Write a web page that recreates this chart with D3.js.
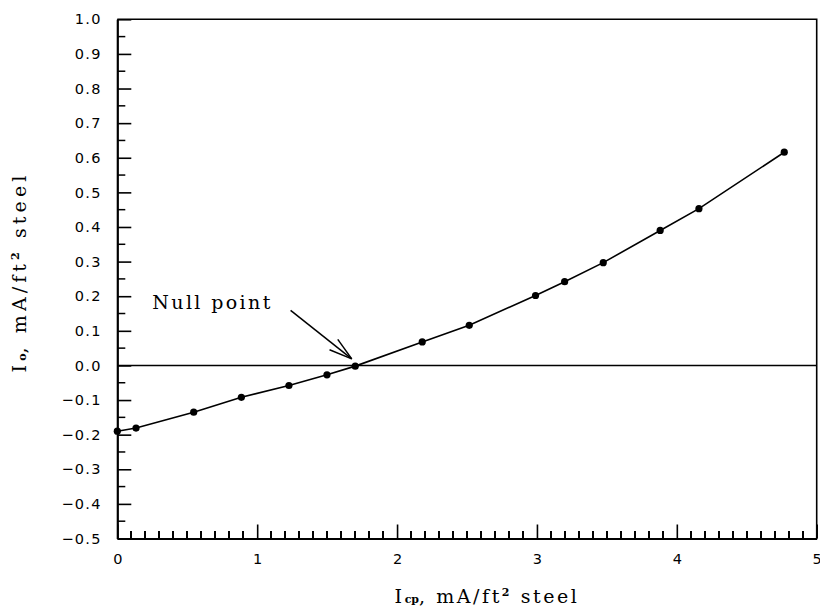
<!DOCTYPE html>
<html>
<head>
<meta charset="utf-8">
<script src="https://cdn.jsdelivr.net/npm/d3@7/dist/d3.min.js"></script>
<style>
  html, body { margin: 0; padding: 0; background: #fff; }
  svg { display: block; }
  .tick text { font-family: "DejaVu Sans", "Liberation Sans", sans-serif; font-size: 14.5px; fill: #000; letter-spacing: 1.3px; }
  .title { font-family: "DejaVu Serif", serif; font-size: 19px; fill: #000; }
</style>
</head>
<body>
<svg id="chart" width="820" height="610"></svg>
<script>
// ---- data ----
const icp = [0, 0.134, 0.546, 0.887, 1.227, 1.499, 1.701, 2.18, 2.516, 2.99, 3.198, 3.474, 3.881, 4.158, 4.768];
const io  = [-0.19, -0.181, -0.135, -0.092, -0.058, -0.027, -0.002, 0.068, 0.116, 0.202, 0.242, 0.297, 0.390, 0.453, 0.616];
const xTickValues = [0, 1, 2, 3, 4, 5];
const yTickValues = [-0.5, -0.4, -0.3, -0.2, -0.1, 0.0, 0.1, 0.2, 0.3, 0.4, 0.5, 0.6, 0.7, 0.8, 0.9, 1.0];
const annotationText = "Null point";
const annotationPos = [0.25, 0.163];
const arrowFrom = [1.239, 0.159];
const arrowTo = [1.676, 0.019];

(function () {
const svg = d3.select("#chart");
const mLeft = 117.3, mRight = 816.7, mTop = 19.3, mBottom = 538.5;
const x = d3.scaleLinear().domain([0, 5]).range([mLeft, mRight]);
const y = d3.scaleLinear().domain([-0.5, 1.0]).range([mBottom, mTop]);

function fitWidth(sel, target) {
  const n = sel.text().length;
  const w = sel.node().getComputedTextLength();
  sel.style("letter-spacing", Math.max(0, (target - w) / Math.max(n - 1, 1)) + "px");
}

// frame (top & right)
svg.append("path")
  .attr("d", `M${mLeft},${mTop}H${mRight}V${mBottom}`)
  .attr("fill", "none").attr("stroke", "#000").attr("stroke-width", 1.6);

// major x axis
svg.append("g").attr("transform", `translate(0,${mBottom})`)
  .call(d3.axisBottom(x).tickValues(xTickValues).tickSizeInner(-14).tickSizeOuter(0).tickPadding(15).tickFormat(d3.format("d")))
  .call(g => g.select(".domain").attr("stroke-width", 2.2))
  .call(g => g.selectAll("line").attr("stroke-width", 1.6))
  .call(g => g.selectAll("text").style("letter-spacing", "0px"));

// minor x ticks (every 0.1), drawn on top of the axis
const xMinor = d3.range(1, 50).map(i => i / 10).filter(v => !xTickValues.includes(v));
svg.append("g").selectAll("rect").data(xMinor).join("rect")
  .attr("x", d => Math.round(x(d)) - 1).attr("width", 2)
  .attr("y", Math.round(mBottom) - 8).attr("height", 8)
  .attr("fill", "#000");

// minor y ticks (every 0.05)
const yMinorVals = d3.range(0, 15).map(i => -0.45 + i * 0.1).map(v => +v.toFixed(2));
svg.append("g").selectAll("line").data(yMinorVals).join("line")
  .attr("x1", mLeft).attr("x2", mLeft + 8)
  .attr("y1", d => y(d)).attr("y2", d => y(d))
  .attr("stroke", "#000").attr("stroke-width", 1.5);

// major y axis
svg.append("g").attr("transform", `translate(${mLeft},0)`)
  .call(d3.axisLeft(y).tickValues(yTickValues).tickSizeInner(-14).tickSizeOuter(0).tickPadding(15.5)
    .tickFormat(d => d3.format(".1f")(d).replace("-", "\u2212")))
  .call(g => g.select(".domain").attr("stroke-width", 2.2))
  .call(g => g.selectAll("line").attr("stroke-width", 1.6));

// zero line
svg.append("line")
  .attr("x1", mLeft).attr("x2", mRight).attr("y1", y(0)).attr("y2", y(0))
  .attr("stroke", "#000").attr("stroke-width", 1.6);

// data line + markers
const pts = icp.map((v, i) => [v, io[i]]);
svg.append("path")
  .datum(pts)
  .attr("d", d3.line().x(d => x(d[0])).y(d => y(d[1])))
  .attr("fill", "none").attr("stroke", "#000").attr("stroke-width", 1.6);

svg.append("g").selectAll("circle").data(pts).join("circle")
  .attr("cx", d => x(d[0])).attr("cy", d => y(d[1])).attr("r", 3.6).attr("fill", "#000");

// annotation
const ann = svg.append("text").attr("class", "title")
  .attr("x", x(annotationPos[0])).attr("y", y(annotationPos[1]))
  .style("font-size", "19px")
  .text(annotationText);
fitWidth(ann, 118);

const ax0 = x(arrowFrom[0]), ay0 = y(arrowFrom[1]), ax1 = x(arrowTo[0]), ay1 = y(arrowTo[1]);
svg.append("line").attr("x1", ax0).attr("y1", ay0).attr("x2", ax1).attr("y2", ay1)
  .attr("stroke", "#000").attr("stroke-width", 1.5);
const ang = Math.atan2(ay0 - ay1, ax0 - ax1);
const barbLen = 24, barbAng = 16 * Math.PI / 180;
[-1, 1].forEach(s => {
  svg.append("line")
    .attr("x1", ax1).attr("y1", ay1)
    .attr("x2", ax1 + barbLen * Math.cos(ang + s * barbAng))
    .attr("y2", ay1 + barbLen * Math.sin(ang + s * barbAng))
    .attr("stroke", "#000").attr("stroke-width", 1.5);
});

// axis titles
function buildTitle(t, sub) {
  t.append("tspan").text("I");
  t.append("tspan").attr("font-size", "11px").attr("font-weight", "bold").style("letter-spacing", "0px").text(sub);
  t.append("tspan").text(", mA/ft");
  t.append("tspan").attr("font-size", "11px").attr("font-weight", "bold").attr("dy", -7).text("2");
  t.append("tspan").attr("dy", 7).text("  steel");
}
const xt = svg.append("text").attr("class", "title")
  .attr("x", 487).attr("y", 603).attr("text-anchor", "middle");
buildTitle(xt, "cp");
fitWidth(xt, 190);

const yt = svg.append("text").attr("class", "title")
  .attr("transform", "translate(26,272) rotate(-90)").attr("text-anchor", "middle");
buildTitle(yt, "o");
fitWidth(yt, 205);
})();
</script>
</body>
</html>
